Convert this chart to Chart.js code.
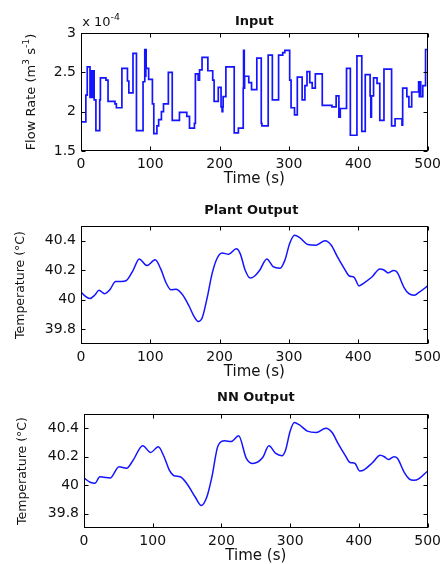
<!DOCTYPE html>
<html>
<head>
<meta charset="utf-8">
<script src="https://cdn.jsdelivr.net/npm/chart.js@4.4.1/dist/chart.umd.min.js"></script>
<style>
  body { margin: 0; background: #fff; }
  canvas { position: absolute; left: 0; }
</style>
</head>
<body>
<canvas id="c1" width="446" height="190" style="top:0"></canvas>
<canvas id="c2" width="446" height="190" style="top:190px"></canvas>
<canvas id="c3" width="446" height="184" style="top:380px"></canvas>
<script>
// time axis (s) shared by all three panels
var TIME_TICKS = [0, 100, 200, 300, 400, 500]

// Input: flow rate (x 10^-4 m3/s), piecewise constant, each value starts at inputTime[i]
var inputTime = [0, 7, 9, 13, 14, 15, 16, 17, 18, 19, 21.5, 27, 28, 36, 39, 49, 51, 59, 67, 69,
  75, 80, 89.5, 92, 93, 93.5, 94, 97.6, 103, 105, 109.5, 112, 116, 119, 126, 131.6, 142, 152.6, 156.5, 163.6,
  165, 169, 171, 174.6, 183, 190, 192, 198, 202, 203.5, 204.5, 205, 209, 221, 227, 234, 234.5, 235.5, 236, 242,
  246, 253.6, 260, 261, 270, 276, 285, 291, 294, 301, 303, 308, 312, 319, 323, 326, 330, 333.5, 338, 348,
  362, 368, 372, 374, 383, 388.5, 398, 405, 410, 417, 418, 419, 422, 427, 431, 437, 448, 453, 463, 464,
  470, 473, 477, 487, 488, 489, 490, 493, 497, 500]
var inputFlow = [1.87, 2.21, 2.57, 2.18, 2.52, 2.18, 2.52, 2.18, 2.52, 2.15, 1.76, 2.15, 2.43, 2.40, 2.13, 2.10, 2.05, 2.55, 2.39, 2.24,
  2.74, 1.76, 2.38, 2.79, 2.45, 2.79, 2.55, 2.41, 2.10, 1.72, 1.82, 1.90, 2.00, 2.10, 2.50, 1.89, 1.99, 1.94, 1.79, 1.85,
  2.48, 2.40, 2.53, 2.69, 2.52, 2.40, 2.13, 2.31, 2.06, 2.00, 2.06, 2.19, 2.57, 1.73, 1.79, 2.30, 2.78, 2.30, 2.45, 2.37,
  2.28, 2.68, 1.85, 1.82, 2.72, 2.15, 2.72, 2.75, 2.78, 2.40, 2.05, 1.96, 2.44, 2.15, 2.33, 2.51, 2.37, 2.30, 2.48, 2.08,
  2.06, 2.20, 1.93, 2.04, 2.55, 1.70, 2.71, 1.75, 2.47, 2.20, 1.93, 2.20, 2.43, 2.36, 1.89, 2.54, 1.82, 1.91, 1.83, 2.30,
  2.19, 2.06, 2.25, 2.38, 2.19, 2.38, 2.19, 2.33, 2.79, 2.79]
var FLOW_TICKS = [1.5, 2, 2.5, 3]

// Plant output: temperature (°C)
var plantTime = [0, 6, 13, 20, 26, 34, 41.5, 50, 58, 65, 75, 84, 95, 107, 115, 122.5, 130, 137, 146, 156,
  163, 169, 175, 182, 189, 196, 203.5, 213, 224, 229.6, 237, 244, 251, 258, 268, 277, 287, 294, 301, 308,
  315.5, 327, 339, 352, 361, 370, 380, 387, 394, 401, 408.5, 420, 431, 437, 443, 451, 456, 466, 473, 480,
  487, 500]
var plantTemp = [40.053, 40.025, 40.009, 40.032, 40.064, 40.041, 40.067, 40.124, 40.124, 40.129, 40.198, 40.276, 40.232, 40.271, 40.209, 40.117, 40.067, 40.071, 40.037, 39.956,
  39.887, 39.853, 39.880, 40.014, 40.175, 40.278, 40.317, 40.308, 40.345, 40.313, 40.198, 40.147, 40.163, 40.202, 40.276, 40.225, 40.214, 40.267, 40.382, 40.437,
  40.421, 40.375, 40.370, 40.400, 40.370, 40.290, 40.209, 40.161, 40.152, 40.094, 40.115, 40.156, 40.209, 40.202, 40.182, 40.198, 40.186, 40.083, 40.041, 40.030,
  40.048, 40.094]

// NN output: temperature (°C)
var nnTime = [0, 9, 16, 23, 29, 38, 51, 62, 71, 85.5, 97, 108, 116.5, 124.6, 131, 140, 150, 162, 170.5, 178.6,
  186, 195, 205, 214, 225, 236, 245.5, 260, 269, 279, 288, 293, 300, 306, 313, 325, 338, 352, 361, 370,
  380, 387, 394, 401, 408, 420, 431, 437, 443, 451, 456, 466, 473, 480, 487, 500]
var nnTemp = [40.051, 40.021, 40.014, 40.060, 40.056, 40.051, 40.130, 40.119, 40.172, 40.277, 40.230, 40.270, 40.200, 40.102, 40.067, 40.060, 40.009, 39.916, 39.858, 39.916,
  40.056, 40.277, 40.312, 40.307, 40.347, 40.191, 40.153, 40.195, 40.277, 40.223, 40.207, 40.242, 40.380, 40.440, 40.425, 40.380, 40.370, 40.400, 40.370, 40.290,
  40.210, 40.160, 40.155, 40.100, 40.110, 40.160, 40.210, 40.200, 40.180, 40.200, 40.190, 40.090, 40.045, 40.035, 40.045, 40.100]
var TEMP_TICKS = [39.8, 40, 40.2, 40.4]

var FONT = "'DejaVu Sans', sans-serif"
var INK = "#111"

// draws a list of [text, isSuperscript] pieces centred on (0,0)
function drawPieces(ctx, pieces, size) {
  var fonts = pieces.map(function(p) { return (p[1] ? size * 0.72 : size) + "px " + FONT })
  var widths = pieces.map(function(p, i) { ctx.font = fonts[i]; return ctx.measureText(p[0]).width })
  var x = -widths.reduce(function(a, b) { return a + b }, 0) / 2
  ctx.textAlign = "left"
  ctx.textBaseline = "middle"
  pieces.forEach(function(p, i) {
    ctx.font = fonts[i]
    ctx.fillText(p[0], x, p[1] ? -size * 0.42 : 0)
    x += widths[i]
  })
}

// matlab look: box, inward ticks, title, axis labels
var matlabPlugin = {
  id: "matlab",
  afterDraw: function(chart, args, opts) {
    var ctx = chart.ctx, a = chart.chartArea
    var L = Math.round(a.left) + 0.5, T = Math.round(a.top) + 0.5
    var R = Math.round(a.right) - 0.5, B = Math.round(a.bottom) - 0.5
    ctx.save()
    ctx.strokeStyle = "#000"
    ctx.lineWidth = 1
    ctx.strokeRect(L, T, R - L, B - T)
    ctx.beginPath()
    chart.scales.x.ticks.forEach(function(t) {
      var px = Math.round(chart.scales.x.getPixelForValue(t.value)) + 0.5
      ctx.moveTo(px, B); ctx.lineTo(px, B - 4)
      ctx.moveTo(px, T); ctx.lineTo(px, T + 4)
    })
    chart.scales.y.ticks.forEach(function(t) {
      var py = Math.round(chart.scales.y.getPixelForValue(t.value)) + 0.5
      ctx.moveTo(L, py); ctx.lineTo(L + 4, py)
      ctx.moveTo(R, py); ctx.lineTo(R - 4, py)
    })
    ctx.stroke()

    ctx.fillStyle = INK
    ctx.font = "bold 13px " + FONT
    ctx.textAlign = "center"
    ctx.textBaseline = "middle"
    ctx.fillText(opts.title, (a.left + a.right) / 2 + (opts.titleDx || 0), a.top - opts.titleGap)

    ctx.font = "15px " + FONT
    ctx.fillText("Time (s)", (a.left + a.right) / 2, a.bottom + 28)

    ctx.save()
    ctx.translate(opts.ylabelX, (a.top + a.bottom) / 2)
    ctx.rotate(-Math.PI / 2)
    drawPieces(ctx, opts.ylabel, opts.ylabelSize)
    ctx.restore()

    if (opts.exponent) {
      ctx.save()
      ctx.translate(a.left + 20, a.top - 10)
      drawPieces(ctx, [["x 10", false], ["-4", true]], 13)
      ctx.restore()
    }
    ctx.restore()
  }
}

function makeChart(id, times, values, stepped, yMin, yMax, yTicks, area, plugOpts) {
  var canvas = document.getElementById(id)
  var points = times.map(function(t, i) { return { x: t, y: values[i] } })
  return new Chart(canvas, {
    type: "line",
    data: {
      datasets: [{
        data: points,
        borderColor: "#1414ff",
        borderWidth: stepped ? 1.7 : 1.5,
        pointRadius: 0,
        stepped: stepped ? "before" : false,
        cubicInterpolationMode: "monotone",
        fill: false
      }]
    },
    options: {
      responsive: false,
      animation: false,
      events: [],
      layout: { padding: { top: area.top, right: 446 - area.right, left: 0, bottom: 0 } },
      plugins: { legend: { display: false }, tooltip: { enabled: false }, matlab: plugOpts },
      scales: {
        x: {
          type: "linear", min: 0, max: 500,
          afterBuildTicks: function(s) { s.ticks = TIME_TICKS.map(function(v) { return { value: v } }) },
          afterFit: function(s) { s.height = canvas.height - area.bottom },
          grid: { display: false, drawTicks: false },
          border: { display: false },
          ticks: { padding: 5, color: INK, font: { family: FONT, size: 14 }, maxRotation: 0,
            callback: function(v) { return String(v) } }
        },
        y: {
          type: "linear", min: yMin, max: yMax,
          afterBuildTicks: function(s) { s.ticks = yTicks.map(function(v) { return { value: v } }) },
          afterFit: function(s) { s.width = area.left },
          grid: { display: false, drawTicks: false },
          border: { display: false },
          ticks: { padding: 5, color: INK, font: { family: FONT, size: 14 },
            callback: function(v) { return String(v) } }
        }
      }
    },
    plugins: [matlabPlugin]
  })
}

makeChart("c1", inputTime, inputFlow, true, 1.5, 3, FLOW_TICKS,
  { left: 81, right: 429, top: 33, bottom: 151 },
  { title: "Input", titleGap: 11, ylabelX: 32, ylabelSize: 13, exponent: true,
    ylabel: [["Flow Rate (m", false], ["3", true], [" s", false], ["-1", true], [")", false]] })

makeChart("c2", plantTime, plantTemp, false, 39.7, 40.5, TEMP_TICKS,
  { left: 81, right: 431, top: 36, bottom: 154 },
  { title: "Plant Output", titleGap: 15, titleDx: -3, ylabelX: 21, ylabelSize: 12.5,
    ylabel: [["Temperature (°C)", false]] })

makeChart("c3", nnTime, nnTemp, false, 39.7, 40.5, TEMP_TICKS,
  { left: 84, right: 433, top: 34, bottom: 148 },
  { title: "NN Output", titleGap: 16, ylabelX: 23, ylabelSize: 12.5,
    ylabel: [["Temperature (°C)", false]] })
</script>
</body>
</html>
